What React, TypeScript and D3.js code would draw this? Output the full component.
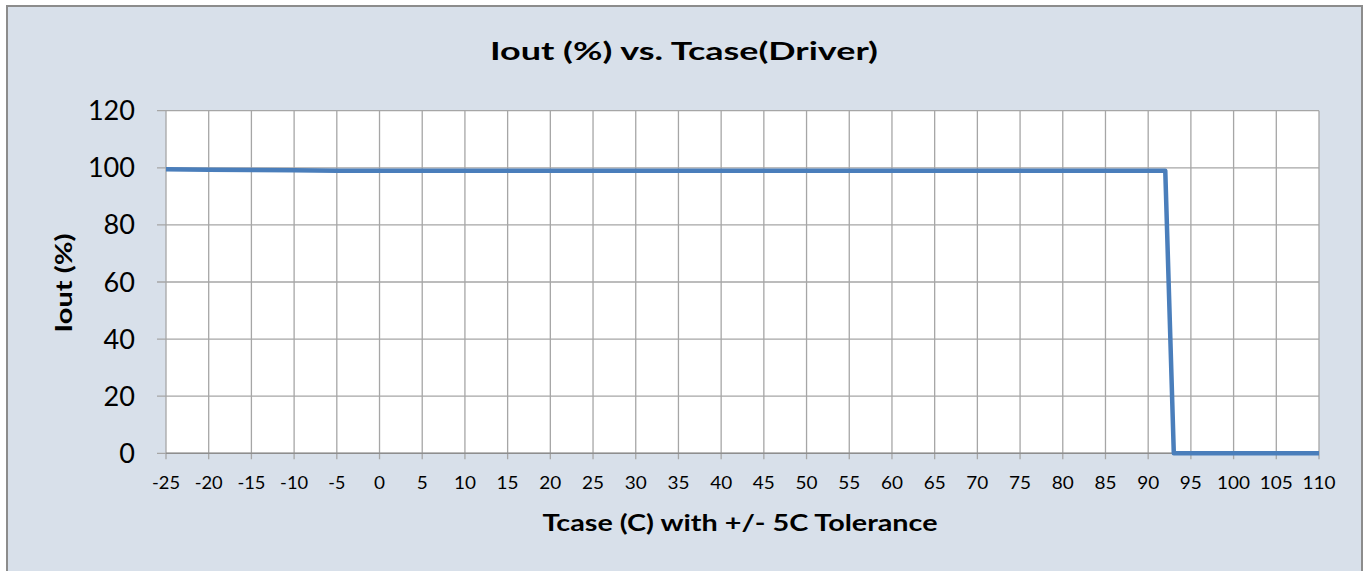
import React from "react";
import * as d3 from "d3";

const tempC = [-25, -20, -15, -10, -5, 0, 5, 10, 15, 20, 25, 30, 35, 40, 45, 50, 55, 60, 65, 70, 75, 80, 85, 90, 92, 93, 95, 100, 105, 110];
const ioutPct = [99.5, 99.3, 99.2, 99.1, 99, 99, 99, 99, 99, 99, 99, 99, 99, 99, 99, 99, 99, 99, 99, 99, 99, 99, 99, 99, 99, 0, 0, 0, 0, 0];
const xTicks = d3.range(-25, 111, 5);
const yTicks = [0, 20, 40, 60, 80, 100, 120];

const W = 1364, H = 571;
const left = 166, right = 1319, top = 110.7, bottom = 453.3;
const FONT = "Lato, 'Open Sans', sans-serif";

export default function App() {
  const x = d3.scaleLinear().domain([-25, 110]).range([left, right]);
  const y = d3.scaleLinear().domain([0, 120]).range([bottom, top]);
  const pts: [number, number][] = tempC.map((t, i) => [t, ioutPct[i]]);
  const line = d3.line<[number, number]>().x(d => x(d[0])).y(d => y(d[1]));
  const grid = "#a6a6a6";
  const xLen = (s: string) => s.split("").reduce((a, c) => a + (c === "-" ? 6 : 11), 0);
  return (
    <svg width={W} height={H} style={{ position: "absolute", left: 0, top: 0 }} fontFamily={FONT}>
      <rect x={7} y={6} width={1355} height={575} fill="#d8e0ea" stroke="#8c8c8c" strokeWidth={2} />
      <rect x={left} y={top} width={right - left} height={bottom - top} fill="#ffffff" />
      {xTicks.map(t => (
        <line key={"gx" + t} x1={x(t)} x2={x(t)} y1={top} y2={bottom + 6} stroke={grid} strokeWidth={1.3} />
      ))}
      {yTicks.map(t => (
        <line key={"gy" + t} x1={left - 9} x2={right} y1={y(t)} y2={y(t)} stroke={grid} strokeWidth={1.3} />
      ))}
      <line x1={left} x2={right} y1={bottom} y2={bottom} stroke="#8e8e8e" strokeWidth={1.5} />
      <path d={line(pts) || ""} fill="none" stroke="#4a7ebb" strokeWidth={4.5} strokeLinejoin="round" />
      {yTicks.map(t => (
        <text key={"ly" + t} x={135} y={y(t) + 9.5} textAnchor="end" fontSize={26} fill="#000"
          textLength={String(t).length * 15.7} lengthAdjust="spacingAndGlyphs">{t}</text>
      ))}
      {xTicks.map(t => (
        <text key={"lx" + t} x={x(t)} y={488.5} textAnchor="middle" fontSize={18} fill="#000"
          textLength={xLen(String(t))} lengthAdjust="spacingAndGlyphs">{t}</text>
      ))}
      <text x={684} y={60} textAnchor="middle" fontSize={25} fontWeight="bold" fill="#000"
        textLength={388} lengthAdjust="spacingAndGlyphs">Iout (%) vs. Tcase(Driver)</text>
      <text x={740} y={531} textAnchor="middle" fontSize={23} fontWeight="bold" fill="#000"
        textLength={395} lengthAdjust="spacingAndGlyphs">Tcase (C) with +/- 5C Tolerance</text>
      <text transform={`translate(72,283) rotate(-90)`} textAnchor="middle" fontSize={23} fontWeight="bold" fill="#000"
        textLength={99} lengthAdjust="spacingAndGlyphs">Iout (%)</text>
    </svg>
  );
}
